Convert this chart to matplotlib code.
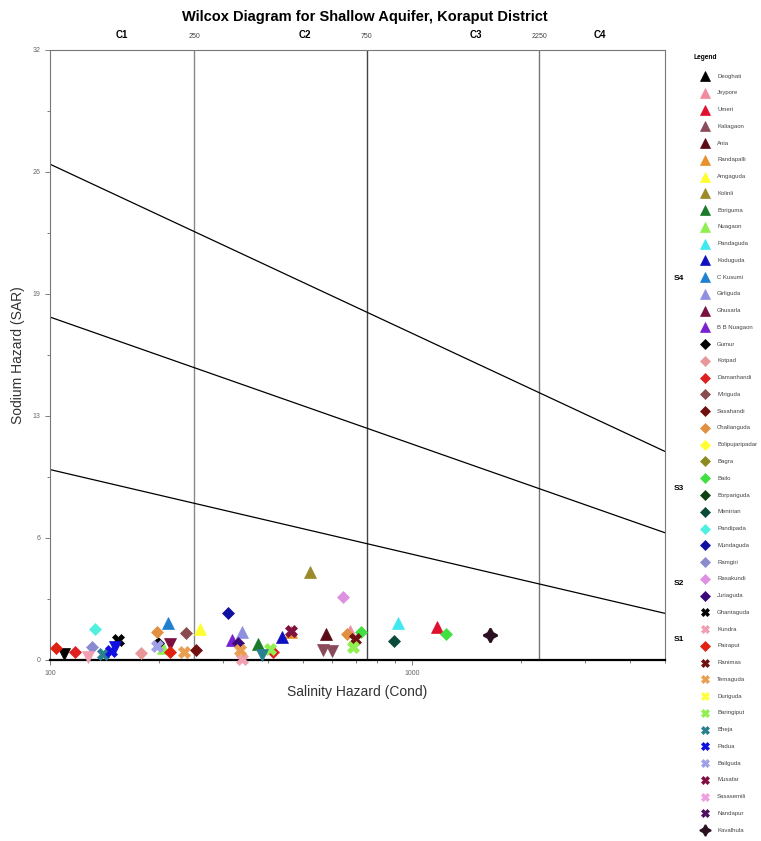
import numpy as np
import matplotlib
matplotlib.use('Agg')
import matplotlib.pyplot as plt
from matplotlib.ticker import FixedLocator, NullFormatter, LogLocator

# Estaciones (orden de la leyenda), colores y marcadores
stations = ['Deoghati', 'Jeypore', 'Umeri', 'Kaliagaon', 'Ania', 'Randapalli', 'Amgaguda',
            'Kolinli', 'Boriguma', 'Nuagaon', 'Pandaguda', 'Koduguda', 'C Kusumi', 'Girliguda',
            'Ghusarla', 'B B Nuagaon', 'Gumur', 'Kotpad', 'Damanhandi', 'Miriguda', 'Sasahandi',
            'Challanguda', 'Bolipujaripadar', 'Bagra', 'Bailo', 'Borpariguda', 'Mentrian',
            'Pandipada', 'Mundaguda', 'Ramgiri', 'Rasakundi', 'Juriaguda', 'Ghantaguda', 'Kundra',
            'Pairaput', 'Ranimas', 'Temaguda', 'Duriguda', 'Baringiput', 'Bheja', 'Padua',
            'Bailguda', 'Musafar', 'Sasasemili', 'Nandapur', 'Kavalhula']
colors = ['#000000', '#f08ca0', '#e0102f', '#8b4a5a', '#5a0a14', '#e8902a', '#ffff30',
          '#9a8a2a', '#1a7a2a', '#90ee50', '#40e8f0', '#1010c0', '#2080d0', '#9090e0',
          '#7a1040', '#7a20d0', '#000000', '#e89898', '#e02020', '#8a4a50', '#701010',
          '#e09040', '#ffff30', '#8a8a20', '#40e040', '#104010', '#0a4a3a',
          '#50f0e0', '#1010a0', '#8a8ad0', '#e090e0', '#3a0a7a', '#000000', '#f0a0b0',
          '#e02010', '#701010', '#e8a050', '#ffff40', '#90f050', '#2a8090', '#1010e0',
          '#a0a0e8', '#801040', '#f0a0e0', '#501060', '#2a1020']
markers = ['^'] * 16 + ['D'] * 16 + ['X', 'X', 'D'] + ['X'] * 10 + ['star']

# Muestras: estacion, conductividad, SAR, marcador (None = el de la estacion)
sample_station = ['Deoghati', 'Jeypore', 'Umeri', 'Kaliagaon', 'Kaliagaon', 'Ania', 'Randapalli',
                  'Amgaguda', 'Kolinli', 'Boriguma', 'Nuagaon', 'Pandaguda', 'Koduguda',
                  'C Kusumi', 'Girliguda', 'Ghusarla', 'B B Nuagaon', 'Gumur', 'Kotpad',
                  'Damanhandi', 'Damanhandi', 'Miriguda', 'Sasahandi', 'Challanguda',
                  'Challanguda', 'Bailo', 'Bailo', 'Mentrian', 'Pandipada', 'Mundaguda',
                  'Ramgiri', 'Rasakundi', 'Juriaguda', 'Ghantaguda', 'Kundra', 'Kundra',
                  'Pairaput', 'Pairaput', 'Ranimas', 'Temaguda', 'Temaguda', 'Baringiput',
                  'Baringiput', 'Bheja', 'Bheja', 'Padua', 'Padua', 'Bailguda', 'Musafar',
                  'Kavalhula']
sample_cond = [109, 674, 1172, 568, 601, 578, 462,
               260, 523, 375, 205, 915, 437,
               212, 340, 214, 318, 199, 178,
               117, 413, 238, 253, 198,
               660, 723, 1242, 892, 133, 310,
               131, 645, 330, 154, 339, 127,
               215, 104, 696, 335, 234, 687,
               405, 140, 385, 147, 151, 198, 462,
               1642]
sample_sar = [0.30, 1.52, 1.75, 0.55, 0.45, 1.38, 1.47,
              1.65, 4.60, 0.85, 0.65, 1.94, 1.20,
              1.95, 1.47, 0.85, 1.05, 0.90, 0.38,
              0.42, 0.42, 1.40, 0.55, 1.45,
              1.35, 1.45, 1.36, 1.00, 1.63, 2.45,
              0.68, 3.30, 0.90, 1.05, 0.05, 0.18,
              0.42, 0.63, 1.10, 0.55, 0.42, 0.70,
              0.60, 0.30, 0.26, 0.45, 0.68, 0.75, 1.50,
              1.31]
sample_marker = ['v', None, None, 'v', 'v', None, None,
                 None, None, None, None, None, None,
                 None, None, 'v', None, None, None,
                 None, None, None, None, None,
                 None, None, None, None, None, None,
                 None, None, None, None, None, 'v',
                 None, None, None, None, None, None,
                 None, None, 'v', None, 'v', None, None,
                 None]

# Limites de clases de salinidad y lineas de sodicidad (SAR = a - b*log10(EC))
c_bounds = [250, 750, 2250]
c_colors = ['#888888', '#444444', '#777777']
c_labels = ['C1', 'C2', 'C3', 'C4']
c_label_x = [158, 505, 1500, 3300]
s_lines_a = [18.87, 31.31, 43.75]
s_lines_b = [4.44, 6.66, 8.87]
s_labels = ['S1', 'S2', 'S3', 'S4']
s_label_y = [1.05, 4.0, 9.0, 20.0]
y_major = [0, 6.4, 12.8, 19.2, 25.6, 32]
y_major_labels = ['0', '6', '13', '19', '26', '32']


def get_marker(m):
    if m == 'star':
        return (4, 1, 0)
    return m


def marker_size(m):
    if m in ('^', 'v'):
        return 9
    if m == 'D':
        return 6.5
    if m == 'X':
        return 8
    return 10


plt.rcParams['font.family'] = ['Liberation Sans', 'DejaVu Sans']

fig = plt.figure(figsize=(7.61, 8.41), dpi=100)
ax = fig.add_axes([50 / 761, 1 - 660 / 841, 615 / 761, 610 / 841])
ax.set_xscale('log')
ax.set_xlim(100, 5000)
ax.set_ylim(0, 32)

# Lineas de clasificacion
for c, cc in zip(c_bounds, c_colors):
    ax.plot([c, c], [0, 32], color=cc, lw=1.0, zorder=1)
xs = np.logspace(2, np.log10(5000), 50)
for a, b in zip(s_lines_a, s_lines_b):
    ax.plot(xs, a - b * np.log10(xs), color='black', lw=0.9, zorder=1)

# Puntos
for st, cx, sy, mk in zip(sample_station, sample_cond, sample_sar, sample_marker):
    i = stations.index(st)
    m = mk if mk is not None else markers[i]
    ax.plot(cx, sy, linestyle='none', marker=get_marker(m), color=colors[i],
            markersize=marker_size(m), markeredgewidth=0.5 if m != 'star' else 1.5,
            zorder=3, clip_on=False)

# Ejes
ax.yaxis.set_major_locator(FixedLocator(y_major))
ax.set_yticklabels(y_major_labels)
ax.yaxis.set_minor_locator(FixedLocator([3.2, 9.6, 16, 22.4, 28.8]))
ax.xaxis.set_major_locator(FixedLocator([100, 1000]))
ax.set_xticklabels(['100', '1000'])
ax.xaxis.set_minor_locator(LogLocator(base=10, subs=np.arange(2, 10), numticks=20))
ax.xaxis.set_minor_formatter(NullFormatter())
ax.tick_params(axis='both', which='both', direction='out', labelsize=5, labelcolor='#666666',
               color='#666666', width=0.6)
ax.tick_params(axis='both', which='major', length=3.5)
ax.tick_params(axis='both', which='minor', length=2.5)
for side in ['left', 'top', 'right']:
    ax.spines[side].set_color('#777777')
    ax.spines[side].set_linewidth(0.8)
ax.spines['bottom'].set_color('black')
ax.spines['bottom'].set_linewidth(1.6)

ax.set_xlabel('Salinity Hazard (Cond)', fontsize=10, color='#333333', labelpad=6)
ax.set_ylabel('Sodium Hazard (SAR)', fontsize=10, color='#333333', labelpad=5)

# Etiquetas superiores C1..C4 y limites
for lab, xpos in zip(c_labels, c_label_x):
    ax.text(xpos, 32.5, lab, ha='center', va='bottom', fontsize=7, fontweight='bold')
for c in c_bounds:
    ax.text(c, 32.5, str(c), ha='center', va='bottom', fontsize=5, color='#444444')
for lab, ypos in zip(s_labels, s_label_y):
    ax.text(5300, ypos, lab, ha='left', va='center', fontsize=6, fontweight='bold')

fig.text(365 / 761, 1 - 17 / 841, 'Wilcox Diagram for Shallow Aquifer, Koraput District',
         ha='center', va='center', fontsize=10.5, fontweight='bold')

# Leyenda
lax = fig.add_axes([0, 0, 1, 1])
lax.set_xlim(0, 761)
lax.set_ylim(841, 0)
lax.axis('off')
lax.text(693, 57, 'Legend', fontsize=4.8, fontweight='bold', va='center', ha='left')
for i, name in enumerate(stations):
    yy = 76 + i * 16.76
    m = markers[i]
    lax.plot(705, yy, linestyle='none', marker=get_marker(m), color=colors[i],
             markersize=marker_size(m) * 0.8, markeredgewidth=0.5 if m != 'star' else 1.2)
    lax.text(717, yy, name, fontsize=4.3, va='center', ha='left', color='#444444')

fig.savefig('out.png', dpi=100)
